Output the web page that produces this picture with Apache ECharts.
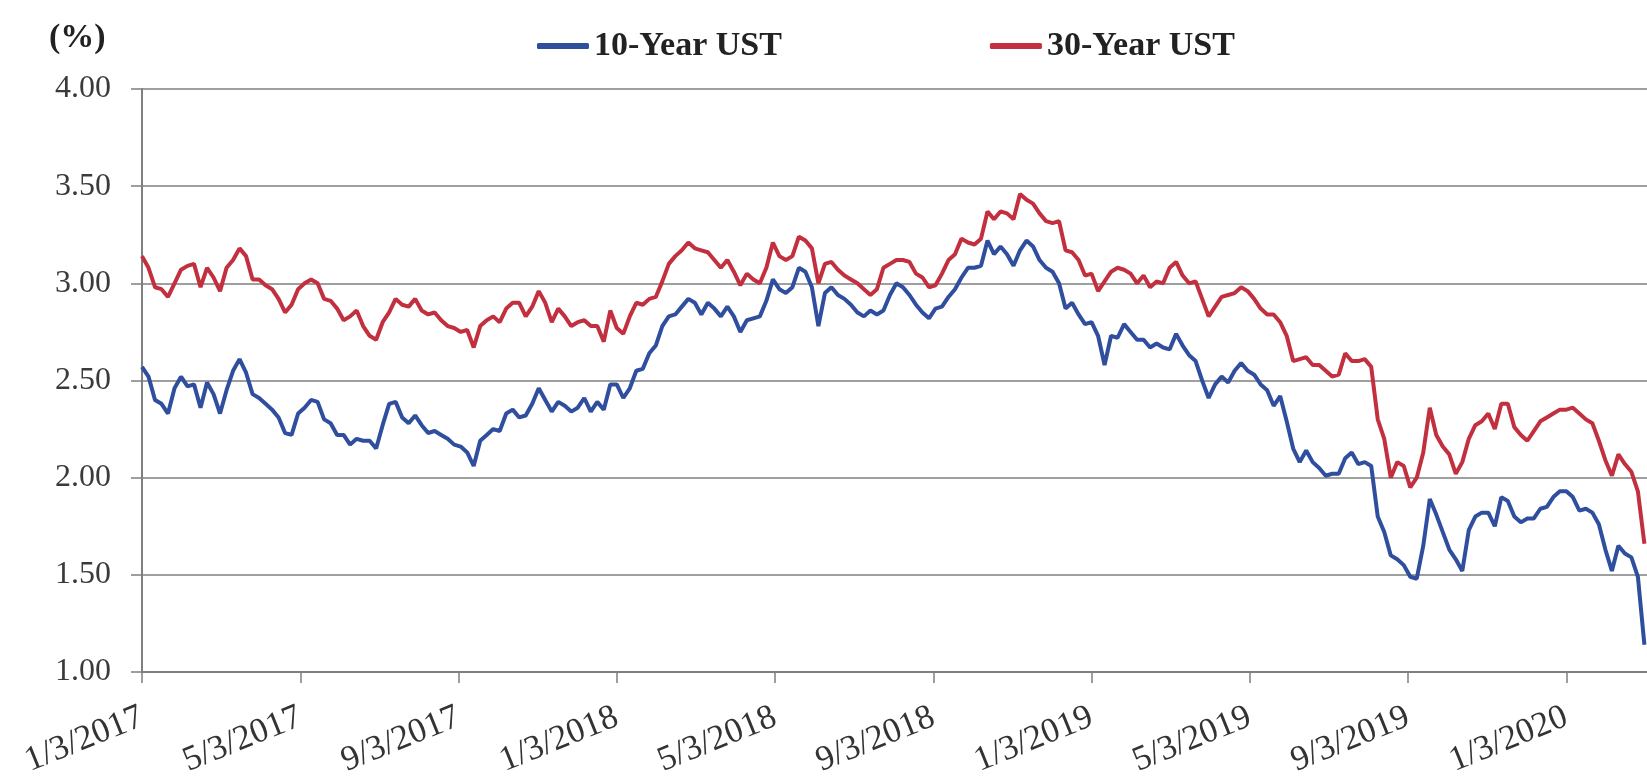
<!DOCTYPE html>
<html><head><meta charset="utf-8">
<script src="https://cdn.jsdelivr.net/npm/echarts@6/dist/echarts.min.js"></script>
<style>html,body{margin:0;padding:0;background:#fff}#chart{width:1647px;height:777px}</style>
</head><body><div id="chart"></div>
<script>
// ---- data ----
const startDate = '2017-01-03';      // first sample
const sampleStepDays = 5;            // one reading every 5 calendar days
const tickLabels = ['1/3/2017','5/3/2017','9/3/2017','1/3/2018','5/3/2018','9/3/2018','1/3/2019','5/3/2019','9/3/2019','1/3/2020'];
const tickDates = ['2017-01-03','2017-05-03','2017-09-03','2018-01-03','2018-05-03','2018-09-03','2019-01-03','2019-05-03','2019-09-03','2020-01-03'];
const axisEndDate = '2020-03-05';
const seriesNames = ['10-Year UST','30-Year UST'];

const ust10 = [
2.57,2.52,2.40,2.38,2.33,2.46,2.52,2.47,2.48,2.36,
2.49,2.43,2.33,2.45,2.55,2.61,2.54,2.43,2.41,2.38,
2.35,2.31,2.23,2.22,2.33,2.36,2.40,2.39,2.30,2.28,
2.22,2.22,2.17,2.20,2.19,2.19,2.15,2.27,2.38,2.39,
2.31,2.28,2.32,2.27,2.23,2.24,2.22,2.20,2.17,2.16,
2.13,2.06,2.19,2.22,2.25,2.24,2.33,2.35,2.31,2.32,
2.38,2.46,2.40,2.34,2.39,2.37,2.34,2.36,2.41,2.34,
2.39,2.35,2.48,2.48,2.41,2.46,2.55,2.56,2.64,2.68,
2.78,2.83,2.84,2.88,2.92,2.90,2.84,2.90,2.87,2.83,
2.88,2.83,2.75,2.81,2.82,2.83,2.91,3.02,2.97,2.95,
2.98,3.08,3.06,2.98,2.78,2.95,2.98,2.94,2.92,2.89,
2.85,2.83,2.86,2.84,2.86,2.94,3.00,2.98,2.94,2.89,
2.85,2.82,2.87,2.88,2.93,2.97,3.03,3.08,3.08,3.09,
3.22,3.15,3.19,3.15,3.09,3.17,3.22,3.19,3.12,3.08,
3.06,3.00,2.87,2.90,2.84,2.79,2.80,2.73,2.58,2.73,
2.72,2.79,2.75,2.71,2.71,2.67,2.69,2.67,2.66,2.74,
2.68,2.63,2.60,2.50,2.41,2.48,2.52,2.49,2.55,2.59,
2.55,2.53,2.48,2.45,2.37,2.42,2.29,2.15,2.08,2.14,
2.08,2.05,2.01,2.02,2.02,2.10,2.13,2.07,2.08,2.06,
1.80,1.72,1.60,1.58,1.55,1.49,1.48,1.65,1.89,1.81,
1.72,1.63,1.58,1.52,1.73,1.80,1.82,1.82,1.75,1.90,
1.88,1.80,1.77,1.79,1.79,1.84,1.85,1.90,1.93,1.93,
1.90,1.83,1.84,1.82,1.76,1.63,1.52,1.65,1.61,1.59,
1.49,1.14
];
const ust30 = [
3.14,3.08,2.98,2.97,2.93,3.00,3.07,3.09,3.10,2.98,
3.08,3.03,2.96,3.08,3.12,3.18,3.14,3.02,3.02,2.99,
2.97,2.92,2.85,2.89,2.97,3.00,3.02,3.00,2.92,2.91,
2.87,2.81,2.83,2.86,2.78,2.73,2.71,2.80,2.85,2.92,
2.89,2.88,2.92,2.86,2.84,2.85,2.81,2.78,2.77,2.75,
2.76,2.67,2.78,2.81,2.83,2.80,2.87,2.90,2.90,2.83,
2.88,2.96,2.90,2.80,2.87,2.83,2.78,2.80,2.81,2.78,
2.78,2.70,2.86,2.77,2.74,2.83,2.90,2.89,2.92,2.93,
3.01,3.10,3.14,3.17,3.21,3.18,3.17,3.16,3.12,3.08,
3.12,3.06,2.99,3.05,3.02,3.00,3.08,3.21,3.14,3.12,
3.14,3.24,3.22,3.18,3.00,3.10,3.11,3.07,3.04,3.02,
3.00,2.97,2.94,2.97,3.08,3.10,3.12,3.12,3.11,3.05,
3.03,2.98,2.99,3.05,3.12,3.15,3.23,3.21,3.20,3.23,
3.37,3.33,3.37,3.36,3.33,3.46,3.43,3.41,3.36,3.32,
3.31,3.32,3.17,3.16,3.12,3.04,3.05,2.96,3.01,3.06,
3.08,3.07,3.05,3.00,3.04,2.98,3.01,3.00,3.08,3.11,
3.04,3.00,3.01,2.92,2.83,2.88,2.93,2.94,2.95,2.98,
2.96,2.92,2.87,2.84,2.84,2.80,2.73,2.60,2.61,2.62,
2.58,2.58,2.55,2.52,2.53,2.64,2.60,2.60,2.61,2.57,
2.30,2.20,2.00,2.08,2.06,1.95,2.00,2.13,2.36,2.22,
2.16,2.12,2.02,2.08,2.20,2.27,2.29,2.33,2.25,2.38,
2.38,2.26,2.22,2.19,2.24,2.29,2.31,2.33,2.35,2.35,
2.36,2.33,2.30,2.28,2.19,2.09,2.01,2.12,2.07,2.03,
1.93,1.66
];

// ---- build ----
const DAY = 86400000;
const t0 = Date.parse(startDate + 'T00:00:00Z');
const dayOf = s => (Date.parse(s + 'T00:00:00Z') - t0) / DAY;
const sampleDates = ust10.map((_, i) => new Date(t0 + i * sampleStepDays * DAY).toISOString().slice(0, 10));
const tickInterval = dayOf(tickDates[tickDates.length - 1]) / (tickDates.length - 1);
const toPairs = vals => vals.map((v, i) => [dayOf(sampleDates[i]), v]);

const FONT = "'Liberation Serif', 'DejaVu Serif', serif";
const GRID = '#7f7f7f';

const chart = echarts.init(document.getElementById('chart'), null, {renderer: 'canvas'});
chart.setOption({
  animation: false,
  backgroundColor: '#ffffff',
  grid: {left: 142, right: 0, top: 89, bottom: 105, containLabel: false, outerBoundsMode: 'none'},
  graphic: [{
    type: 'text', left: 49, top: 21,
    style: {text: '(%)', fill: '#222', font: "bold 34px 'Liberation Serif', serif"}
  }],
  legend: {
    data: seriesNames, left: 532, top: 24, icon: 'roundRect',
    itemWidth: 52, itemHeight: 6, itemGap: 208,
    textStyle: {fontFamily: "'Liberation Serif', serif", fontWeight: 'bold', fontSize: 34, color: '#222'}
  },
  xAxis: {
    type: 'value', min: 0, max: dayOf(axisEndDate), interval: tickInterval,
    axisLine: {onZero: false, lineStyle: {color: GRID, width: 2}},
    axisTick: {show: true, length: 11, lineStyle: {color: GRID, width: 1.5}},
    splitLine: {show: false},
    axisLabel: {
      rotate: 22, margin: 44, showMaxLabel: false,
      fontFamily: FONT, fontSize: 35, color: '#333',
      formatter: v => {
        const k = Math.round(v / tickInterval);
        return Math.abs(v - k * tickInterval) < 0.5 && tickLabels[k] ? tickLabels[k] : '';
      }
    }
  },
  yAxis: {
    type: 'value', min: 1, max: 4, interval: 0.5,
    axisLine: {show: true, onZero: false, lineStyle: {color: GRID, width: 2}},
    axisTick: {show: true, length: 11, lineStyle: {color: GRID, width: 1.5}},
    splitLine: {show: true, lineStyle: {color: GRID, width: 1.5}},
    axisLabel: {margin: 31, fontFamily: FONT, fontSize: 32, color: '#3a3a3a', formatter: v => v.toFixed(2)}
  },
  series: [
    {name: seriesNames[0], type: 'line', data: toPairs(ust10), showSymbol: false, symbol: 'none',
     lineStyle: {color: '#2f4e9e', width: 4}, itemStyle: {color: '#2f4e9e'}},
    {name: seriesNames[1], type: 'line', data: toPairs(ust30), showSymbol: false, symbol: 'none',
     lineStyle: {color: '#c2303f', width: 4}, itemStyle: {color: '#c2303f'}}
  ]
});
</script></body></html>
